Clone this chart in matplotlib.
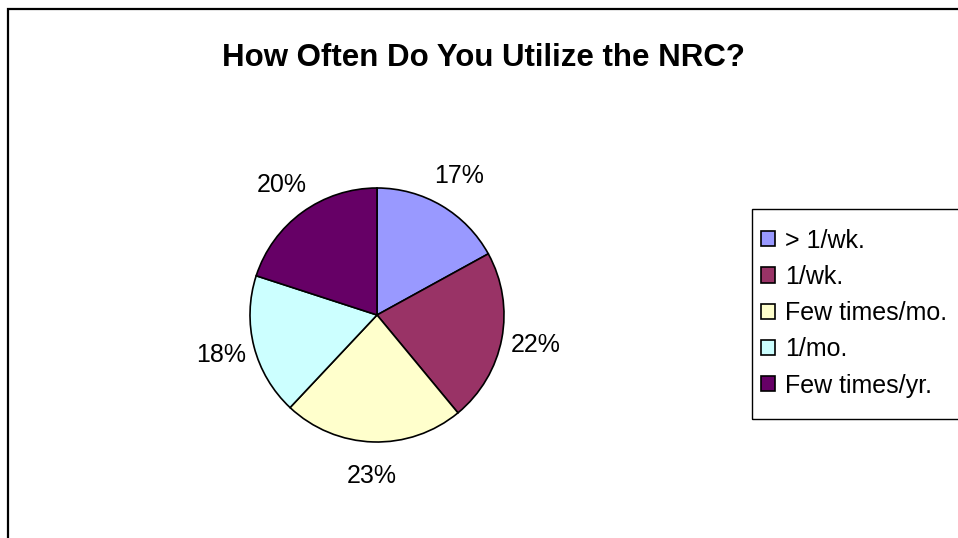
import matplotlib.pyplot as plt
import matplotlib.patches as mpatches

plt.rcParams["font.family"] = ["Liberation Sans", "DejaVu Sans"]

labels = ["> 1/wk.", "1/wk.", "Few times/mo.", "1/mo.", "Few times/yr."]
values = [17, 22, 23, 18, 20]
colors = ["#9999FF", "#993366", "#FFFFCC", "#CCFFFF", "#660066"]

W, H = 958, 538
fig = plt.figure(figsize=(W / 100, H / 100), dpi=100)

# outer chart frame (runs off the right and bottom edges)
frame = mpatches.Rectangle((8 / W, -0.1), 1.2, 1 - 9 / H + 0.1,
                           transform=fig.transFigure, fill=False,
                           edgecolor="black", linewidth=1.6)
fig.patches.append(frame)

fig.text(483 / W, 1 - 58 / H, "How Often Do You Utilize the NRC?",
         ha="center", va="center", fontsize=22.5, fontweight="bold")

cx, cy, r = 377, 315, 127
ax = fig.add_axes([(cx - r) / W, (H - cy - r) / H, 2 * r / W, 2 * r / H])
wedges, texts, autotexts = ax.pie(
    values, colors=colors, startangle=90, counterclock=False,
    autopct="%1.0f%%", pctdistance=1.27,
    wedgeprops={"edgecolor": "black", "linewidth": 1.2},
    textprops={"fontsize": 18})
ax.set_xlim(-1, 1)
ax.set_ylim(-1, 1)
ax.set_aspect("equal")
ax.axis("off")

# legend box drawn separately so the padding can differ per side
legbox = mpatches.Rectangle((752 / W, 1 - 419 / H), 0.5, 210 / H,
                            transform=fig.transFigure, fill=False,
                            edgecolor="black", linewidth=1.0)
fig.patches.append(legbox)

leg = fig.legend(wedges, labels, loc="upper left",
                 bbox_to_anchor=(761 / W, 1 - 228.5 / H),
                 fontsize=18, frameon=False,
                 handlelength=0.56, handleheight=0.56,
                 handletextpad=0.4, labelspacing=0.49, borderpad=0,
                 borderaxespad=0)

fig.savefig("out.png", dpi=100)
